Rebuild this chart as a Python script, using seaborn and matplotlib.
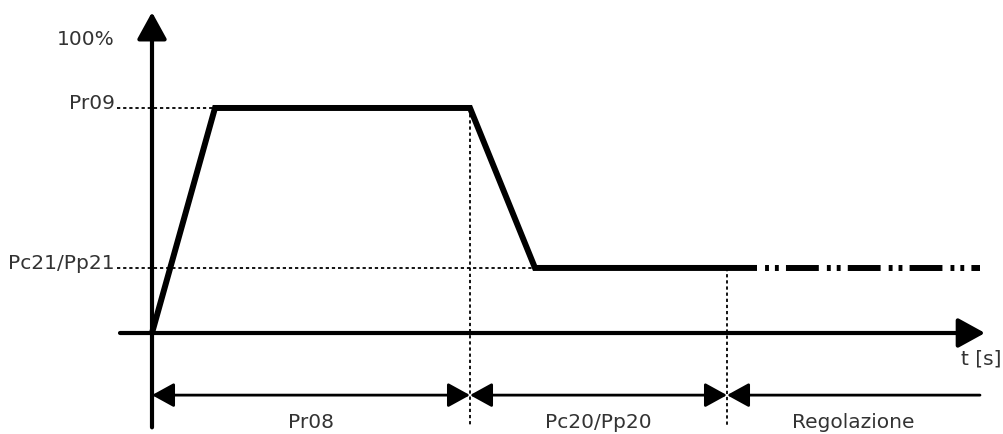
import matplotlib
matplotlib.use("Agg")
import matplotlib.pyplot as plt
import seaborn as sns
import pandas as pd

# ---- data (time in arbitrary units, level in %) ----
curve_t = [0.0, 6.3, 31.8, 38.3, 60.5]
curve_level = [0.0, 76.8, 76.8, 22.2, 22.2]
regulation_t = [60.5, 82.8]
regulation_level = [22.2, 22.2]

level_names = ["100%", "Pr09", "Pc21/Pp21"]
level_values = [100.0, 76.8, 22.2]

phase_names = ["Pr08", "Pc20/Pp20", "Regolazione"]
phase_bounds = [0.0, 31.8, 57.5, 82.8]
x_label = "t [s]"

sns.set_style("white")
plt.rcParams['font.family'] = ['DejaVu Sans']

fig = plt.figure(figsize=(10.04, 4.34), dpi=100)
ax = fig.add_axes([0, 0, 1, 1])
ax.set_xlim(-15.2, 85.2)
ax.set_ylim(-34.47, 113.65)
ax.axis('off')

txt_color = "#333333"
fs = 14.5

# axes arrows
arrow_kw = dict(arrowstyle="-|>,head_length=1.0,head_width=0.55", mutation_scale=16.5,
                lw=3.0, color="black", shrinkA=0, shrinkB=0)
ax.annotate("", xy=(83.3, 0), xytext=(-3.2, 0), arrowprops=arrow_kw)
ax.annotate("", xy=(0, 109.5), xytext=(0, -32.2), arrowprops=arrow_kw)

# dotted guide lines
dot_kw = dict(color="black", lw=1.3, ls=(0, (1.8, 1.6)))
ax.plot([-3.5, curve_t[1]], [level_values[1]] * 2, **dot_kw)
ax.plot([-3.5, curve_t[3]], [level_values[2]] * 2, **dot_kw)
ax.plot([phase_bounds[1]] * 2, [level_values[1], -31.4], **dot_kw)
ax.plot([phase_bounds[2]] * 2, [level_values[2], -31.4], **dot_kw)

# main curve
lw_curve = 4.3
df = pd.DataFrame({"t": curve_t, "level": curve_level})
sns.lineplot(data=df, x="t", y="level", ax=ax, color="black", lw=lw_curve,
             sort=False, estimator=None)
ax.lines[-1].set_solid_joinstyle("miter")
ax.lines[-1].set_solid_capstyle("butt")
dfr = pd.DataFrame({"t": regulation_t, "level": regulation_level})
sns.lineplot(data=dfr, x="t", y="level", ax=ax, color="black", lw=lw_curve,
             sort=False, estimator=None)
ax.lines[-1].set_linestyle((5.5, (5.5, 1.35, 0.65, 1.0, 0.65, 1.2)))
ax.lines[-1].set_dash_capstyle("butt")

# level labels
offsets = [-1.7, -0.3, -0.3]
for name, val, off in zip(level_names, level_values, offsets):
    ax.text(-3.7, val + off, name, ha="right", va="baseline", fontsize=fs, color=txt_color)

# dimension arrows
dim_y = -21.2
styles = ["<|-|>", "<|-|>", "<|-"]
for i, name in enumerate(phase_names):
    a, b = phase_bounds[i], phase_bounds[i + 1]
    ax.annotate("", xy=(b, dim_y), xytext=(a, dim_y),
                arrowprops=dict(arrowstyle=styles[i] + ",head_length=1.0,head_width=0.55",
                                mutation_scale=13.5, lw=2.0, color="black",
                                shrinkA=0, shrinkB=0))
    ax.text((a + b) / 2, -32.4, name, ha="center", va="baseline", fontsize=fs, color=txt_color)

ax.text(85.0, -10.9, x_label, ha="right", va="baseline", fontsize=fs, color=txt_color)

fig.savefig("out.png", dpi=100)
